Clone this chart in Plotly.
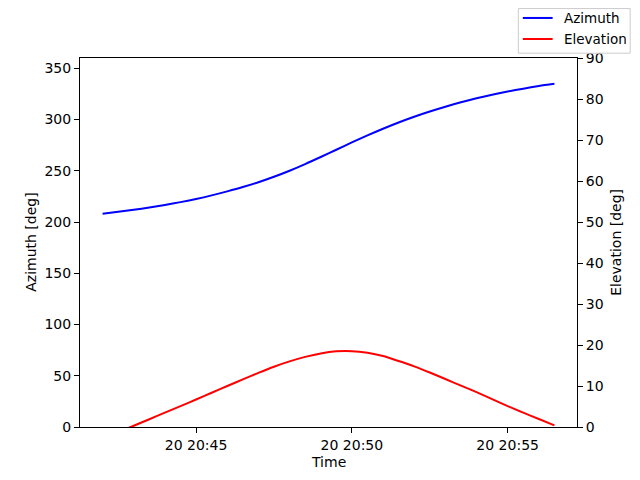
import pandas as pd
import plotly.graph_objects as go

# pass samples, every 30 s from 20:42:00 to 20:56:30
times = pd.date_range("2023-07-20 20:42:00", "2023-07-20 20:56:30", freq="30s")

azimuth = [
    208.0, 209.9, 211.9, 214.1, 216.6, 219.4, 222.5, 226.0, 229.9, 234.1,
    238.8, 244.1, 250.0, 256.5, 263.4, 270.5, 277.6, 284.5, 291.0, 297.1,
    302.7, 307.8, 312.5, 316.8, 320.7, 324.2, 327.3, 330.1, 332.6, 334.8,
]
elevation = [
    -2.8, -1.25, 0.3, 1.9, 3.5, 5.1, 6.7, 8.35, 10.0, 11.6,
    13.2, 14.7, 16.0, 17.1, 17.95, 18.45, 18.5, 18.1, 17.3, 16.1,
    14.8, 13.3, 11.7, 10.1, 8.5, 6.8, 5.1, 3.5, 1.95, 0.4,
]

series_names = ["Azimuth", "Elevation"]
series_colors = ["blue", "red"]

x_ticks = ["2023-07-20 20:45", "2023-07-20 20:50", "2023-07-20 20:55"]
x_range = ["2023-07-20 20:41:16.5", "2023-07-20 20:57:13.5"]

fig = go.Figure()
for name, color, values, axis in zip(series_names, series_colors,
                                     [azimuth, elevation], ["y", "y2"]):
    fig.add_trace(go.Scatter(x=times, y=values, mode="lines", name=name,
                             line=dict(color=color, width=2, shape="spline", smoothing=0.8),
                             yaxis=axis, showlegend=False))

axis_style = dict(showgrid=False, zeroline=False, showline=True, linecolor="black",
                  linewidth=1, ticks="outside", ticklen=5, tickcolor="black",
                  tickfont=dict(size=14, color="black"))

# axis titles as annotations, plotly misplaces them with fixed margins
titles = [
    dict(text="Time", x=0.5, y=-0.095, textangle=0),
    dict(text="Azimuth [deg]", x=-0.1, y=0.5, textangle=-90),
    dict(text="Elevation [deg]", x=1.077, y=0.5, textangle=-90),
]
for t in titles:
    fig.add_annotation(xref="paper", yref="paper", showarrow=False,
                       xanchor="center", yanchor="middle", font=dict(size=14), **t)

# figure-level legend in the top right corner, like fig.legend() in matplotlib
fig.add_shape(type="rect", xref="paper", yref="paper", x0=0.882, x1=1.107,
              y0=1.013, y1=1.134, line=dict(color="#cccccc", width=1),
              fillcolor="white", layer="above")
for i, (name, color) in enumerate(zip(series_names, series_colors)):
    ly = 1.1085 - i * 0.057
    fig.add_shape(type="line", xref="paper", yref="paper", x0=0.891, x1=0.951,
                  y0=ly, y1=ly, line=dict(color=color, width=2), layer="above")
    fig.add_annotation(xref="paper", yref="paper", x=0.9705, y=ly, text=name,
                       showarrow=False, xanchor="left", yanchor="middle",
                       font=dict(size=13.5))

# page has an 8px body margin, so the figure is a bit smaller than the window
fig.update_layout(
    width=632, height=472,
    margin=dict(l=72, r=63, t=50, b=53, autoexpand=False),
    paper_bgcolor="white", plot_bgcolor="white",
    font=dict(family="DejaVu Sans", size=14, color="black"),
    xaxis=dict(range=x_range, tickvals=x_ticks, tickformat="%d %H:%M", mirror=True,
               **axis_style),
    yaxis=dict(range=[0, 360], dtick=50, mirror=True, **axis_style),
    yaxis2=dict(range=[0, 90], dtick=10, overlaying="y", side="right", anchor="x",
                **axis_style),
    showlegend=False,
)

fig.write_html("out.html")
